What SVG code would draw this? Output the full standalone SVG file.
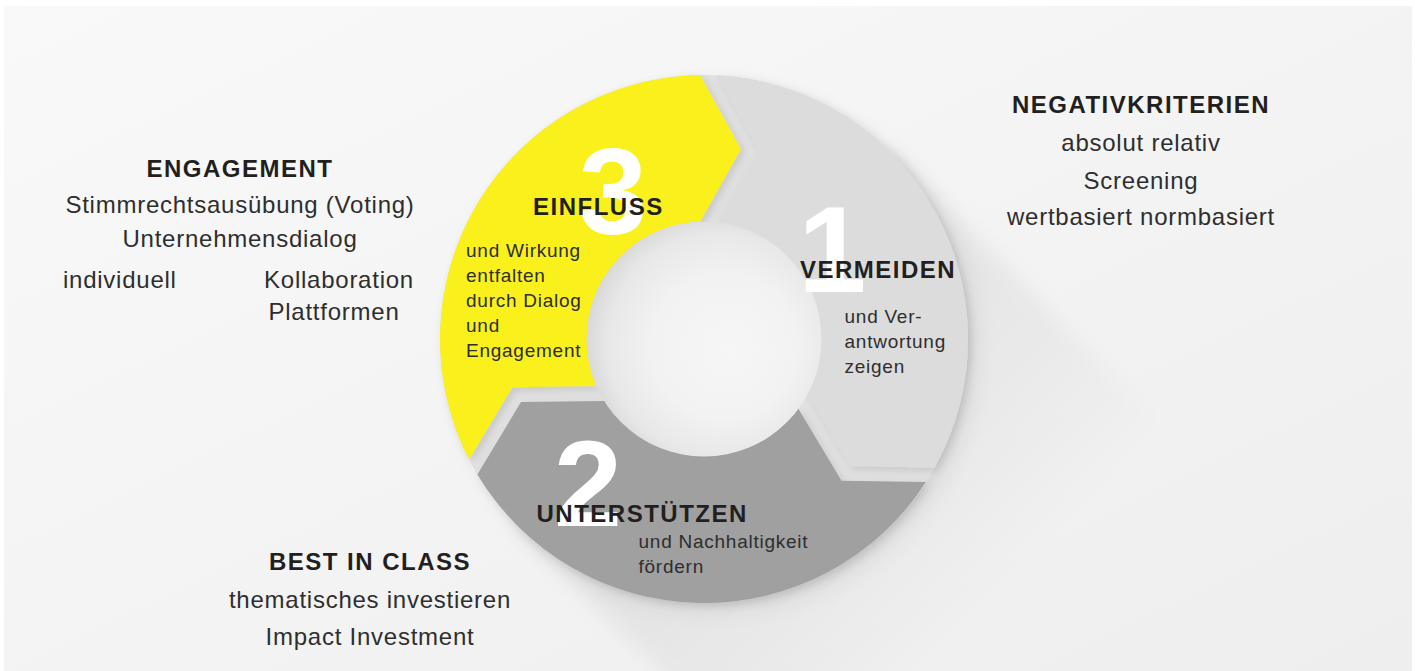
<svg xmlns="http://www.w3.org/2000/svg" width="1415" height="671" viewBox="0 0 1415 671">
  <defs>
    <style>
      .bold { font-family: "Liberation Sans", Arial, sans-serif; font-weight: bold; font-size: 24px; letter-spacing: 1.5px; fill: #231f20; }
      .light { font-family: "Liberation Sans", Arial, sans-serif; font-size: 24px; letter-spacing: 0.75px; fill: #2e2e2e; }
      .small { font-family: "Liberation Sans", Arial, sans-serif; font-size: 19px; letter-spacing: 0.75px; fill: #2e2e2e; }
      .num { font-family: "Liberation Sans", Arial, sans-serif; font-weight: bold; font-size: 123px; fill: #ffffff; }
      .mid { text-anchor: middle; }
    </style>
    <linearGradient id="bg" x1="0" y1="0" x2="1" y2="1">
      <stop offset="0" stop-color="#f9f9f9"/>
      <stop offset="1" stop-color="#eeeeee"/>
    </linearGradient>
    <linearGradient id="longShadow" gradientUnits="userSpaceOnUse" x1="704" y1="339" x2="980" y2="615">
      <stop offset="0" stop-color="#000" stop-opacity="0.09"/>
      <stop offset="1" stop-color="#000" stop-opacity="0"/>
    </linearGradient>
    <radialGradient id="hole" cx="0.56" cy="0.52" r="0.56" fx="0.62" fy="0.55">
      <stop offset="0" stop-color="#f6f6f6"/>
      <stop offset="0.55" stop-color="#f2f2f2"/>
      <stop offset="0.85" stop-color="#e8e8e8"/>
      <stop offset="1" stop-color="#d9d9d9"/>
    </radialGradient>
    <filter id="blur" x="-30%" y="-30%" width="160%" height="160%">
      <feGaussianBlur stdDeviation="10"/>
    </filter>
    <filter id="segShadow" x="-20%" y="-20%" width="140%" height="140%">
      <feDropShadow dx="3" dy="3" stdDeviation="4" flood-color="#000" flood-opacity="0.12"/>
    </filter>
    <path id="seg" d="M 717,75.3 A 264,264 0 0 1 934.6,467.5 L 850,466 L 807.3,394 A 117,117 0 0 0 717,222.7 L 758,149 Z"/>
  </defs>

  <rect x="0" y="0" width="1415" height="671" fill="#ffffff"/>
  <rect x="4" y="6" width="1408" height="665" fill="url(#bg)"/>

  <g id="shadows">
    <path d="M 890.7,152.3 L 1190.7,452.3 L 817.3,825.7 L 517.3,525.7 Z" fill="url(#longShadow)" filter="url(#blur)"/>
    <circle cx="714" cy="349" r="262" fill="#000" fill-opacity="0.08" filter="url(#blur)"/>
  </g>

  <g id="ring">
    <path d="M 704,75 A 264,264 0 1 1 703.99,75 Z M 704,222 A 117,117 0 1 0 704.01,222 Z" fill="#e1e1e1" fill-rule="evenodd"/>
  </g>

  <g id="node-1" filter="url(#segShadow)">
    <use href="#seg" fill="#dcdcdc"/>
  </g>
  <g id="node-2" filter="url(#segShadow)">
    <use href="#seg" fill="#a0a0a0" transform="rotate(120 704 339)"/>
  </g>
  <g id="node-3" filter="url(#segShadow)">
    <use href="#seg" fill="#f9f01a" transform="rotate(240 704 339)"/>
  </g>

  <g id="hub">
    <circle cx="704" cy="339" r="117.5" fill="url(#hole)"/>
  </g>

  <g id="label-3">
    <text class="num mid" x="613" y="234">3</text>
    <text class="bold" x="533" y="215">EINFLUSS</text>
    <text class="small" x="466" y="256.5">und Wirkung</text>
    <text class="small" x="466" y="281.5">entfalten</text>
    <text class="small" x="466" y="306.5">durch Dialog</text>
    <text class="small" x="466" y="331.5">und</text>
    <text class="small" x="466" y="356.5">Engagement</text>
  </g>

  <g id="label-1">
    <text class="num" x="798" y="292">1</text>
    <text class="bold" x="800" y="278">VERMEIDEN</text>
    <text class="small" x="844.5" y="322.5">und Ver-</text>
    <text class="small" x="844.5" y="347.5">antwortung</text>
    <text class="small" x="844.5" y="372.5">zeigen</text>
  </g>

  <g id="label-2">
    <text class="num mid" x="588" y="526">2</text>
    <text class="bold" x="536.5" y="521.5">UNTERSTÜTZEN</text>
    <text class="small" x="638.5" y="547.5">und Nachhaltigkeit</text>
    <text class="small" x="638.5" y="572.5">fördern</text>
  </g>

  <g id="negativkriterien">
    <text class="bold mid" x="1141" y="112.5">NEGATIVKRITERIEN</text>
    <text class="light mid" x="1141" y="150.5">absolut relativ</text>
    <text class="light mid" x="1141" y="189">Screening</text>
    <text class="light mid" x="1141" y="225">wertbasiert normbasiert</text>
  </g>

  <g id="engagement">
    <text class="bold mid" x="240" y="177">ENGAGEMENT</text>
    <text class="light mid" x="240" y="212.5">Stimmrechtsausübung (Voting)</text>
    <text class="light mid" x="240" y="246.5">Unternehmensdialog</text>
    <text class="light" x="63" y="288">individuell</text>
    <text class="light mid" x="339" y="288">Kollaboration</text>
    <text class="light mid" x="334" y="319.5">Plattformen</text>
  </g>

  <g id="best-in-class">
    <text class="bold mid" x="370" y="570">BEST IN CLASS</text>
    <text class="light mid" x="370" y="608">thematisches investieren</text>
    <text class="light mid" x="370" y="645">Impact Investment</text>
  </g>
</svg>
